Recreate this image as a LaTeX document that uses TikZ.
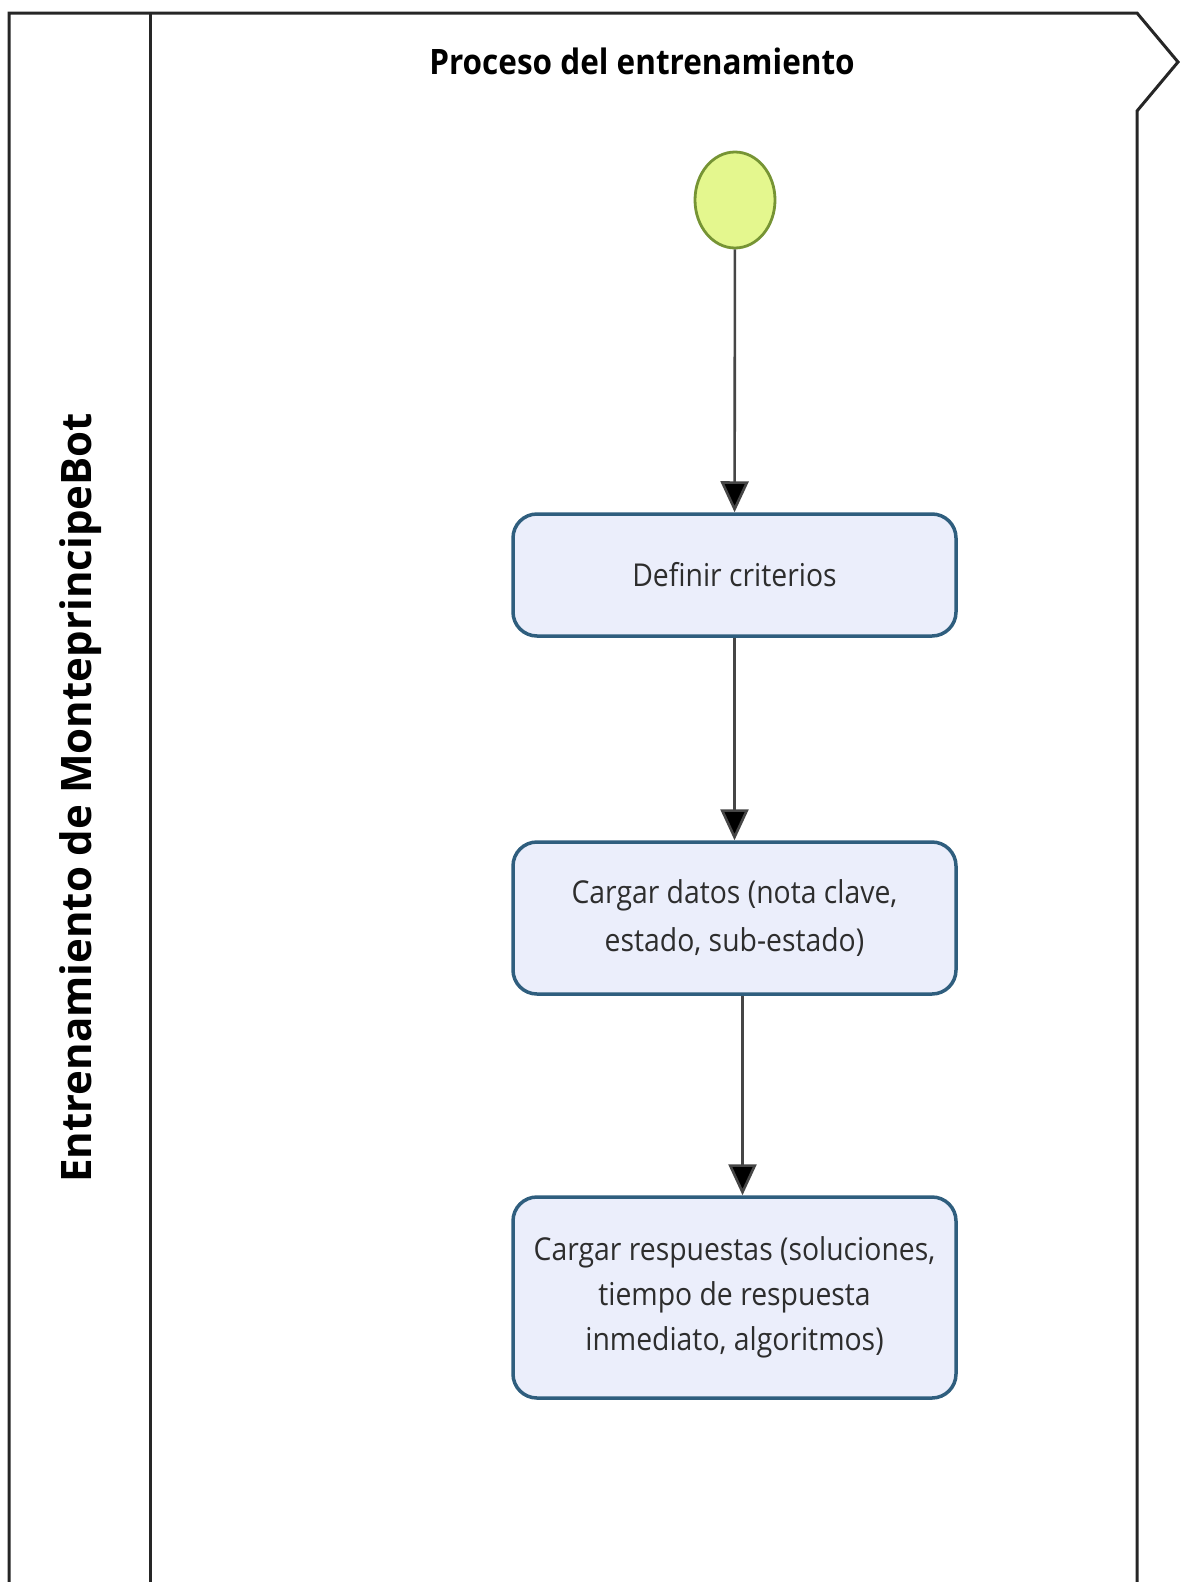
\documentclass[tikz,border=0pt]{standalone}
\usepackage{fontspec}
\setmainfont{Open Sans}
\usetikzlibrary{arrows.meta,shapes.geometric}
\definecolor{taskfill}{RGB}{235,238,251}
\definecolor{taskline}{RGB}{47,94,126}
\definecolor{startfill}{RGB}{228,247,142}
\definecolor{startline}{RGB}{118,148,52}
\definecolor{flowline}{RGB}{70,70,70}
\definecolor{frameline}{RGB}{38,38,38}
\definecolor{tasktext}{RGB}{45,45,45}
% narrow the humanist sans a little, line by line
\newcommand{\cnd}[1]{\scalebox{0.9}[1]{#1}}
\begin{document}
\begin{tikzpicture}[x=1pt,y=-1pt,
  task/.style={draw=taskline, line width=3.5pt, fill=taskfill,
    rounded corners=24pt, minimum width=443pt, align=center,
    text=tasktext, font=\fontsize{31.5}{45}\selectfont},
  startev/.style={ellipse, draw=startline, line width=2.8pt, fill=startfill,
    minimum width=80pt, minimum height=96pt, inner sep=0pt},
  flow/.style={draw=flowline, line width=2.6pt,
    -{Triangle[width=28pt,length=31pt,fill=black]}},
  frame/.style={draw=frameline, line width=3pt, line join=miter},
  lanetitle/.style={font=\fontsize{42}{46}\selectfont\bfseries, text=black},
  pooltitle/.style={font=\fontsize{35}{40}\selectfont\bfseries, text=black}]
\useasboundingbox (0,0) rectangle (1182,1582);
\fill[white] (0,0) rectangle (1182,1582);

% pool outline with the chevron on the right
\draw[frame] (9,1582) -- (9,13) -- (1137,13) -- (1178,62) -- (1137,111) -- (1137,1582);
% divider between the lane header and the lane body
\draw[frame] (150,13) -- (150,1582);

% headers
\node[lanetitle, rotate=90] (lane) at (81,798) {Entrenamiento de MonteprincipeBot};
\node[pooltitle] (pool) at (642,61) {\cnd{Proceso del entrenamiento}};

% start event and tasks
\node[startev] (start) at (735,200) {};
\node[task, minimum height=122pt] (t1) at (734.5,575) {\cnd{Definir criterios}};
\node[task, minimum height=152pt, font=\fontsize{31.5}{48}\selectfont] (t2) at (734.5,918) {\cnd{Cargar datos (nota clave,}\\\cnd{estado, sub-estado)}};
\node[task, minimum height=201pt] (t3) at (734.5,1297.5) {\cnd{Cargar respuestas (soluciones,}\\\cnd{tiempo de respuesta}\\\cnd{inmediato, algoritmos)}};

% sequence flows
\draw[flow] (start) -- (t1);
\draw[flow] (t1) -- (t2);
\draw[flow] ([xshift=8pt]t2.south) -- ([xshift=8pt]t3.north);
\end{tikzpicture}
\end{document}
